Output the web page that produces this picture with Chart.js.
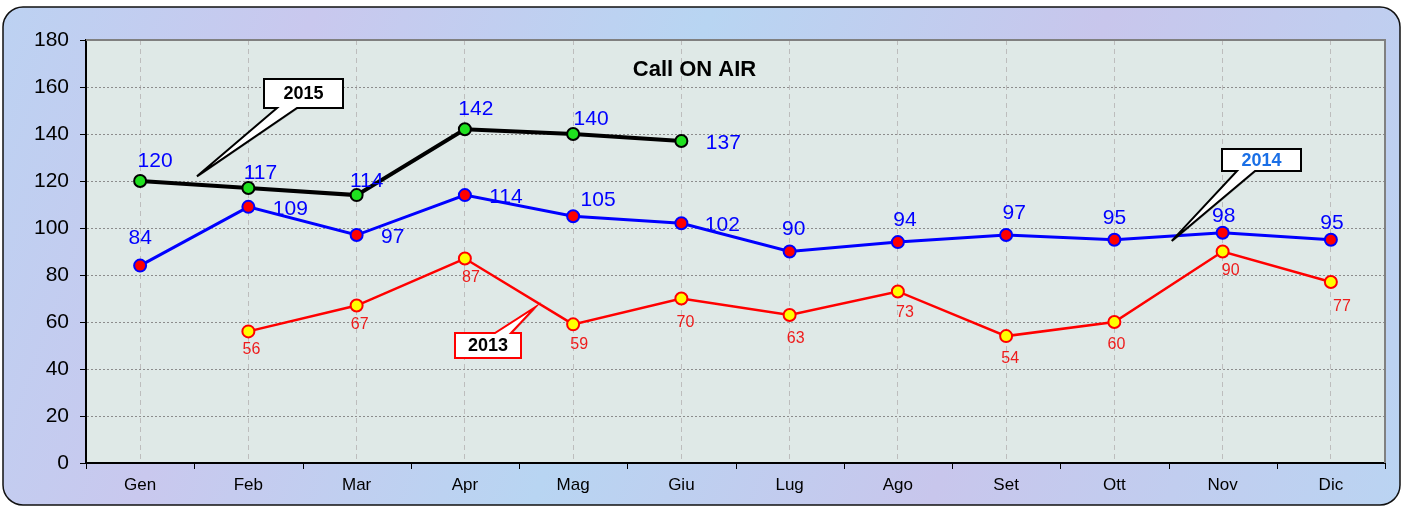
<!DOCTYPE html>
<html>
<head>
<meta charset="utf-8">
<script src="https://cdn.jsdelivr.net/npm/chart.js@4/dist/chart.umd.min.js"></script>
<style>
  html, body { margin: 0; padding: 0; background: #fff; }
  #callChart { display: block; }
</style>
</head>
<body>
<canvas id="callChart" width="1405" height="508"></canvas>
<script>
// chart values
var months = ["Gen", "Feb", "Mar", "Apr", "Mag", "Giu", "Lug", "Ago", "Set", "Ott", "Nov", "Dic"];
var calls2013 = [null, 56, 67, 87, 59, 70, 63, 73, 54, 60, 90, 77];
var calls2014 = [84, 109, 97, 114, 105, 102, 90, 94, 97, 95, 98, 95];
var calls2015 = [120, 117, 114, 142, 140, 137, null, null, null, null, null, null];
var yMin = 0, yMax = 180, yStep = 20;
var chartTitle = "Call ON AIR";

// where each value label sits relative to its point (px)
var offsets2013 = [[0, 0], [3, 18], [3, 19], [6, 19], [6, 20], [4, 24], [6, 24], [7, 21], [4, 22], [2, 23], [8, 19], [11, 25]];
var offsets2014 = [[0, -27], [42, 2], [36, 2], [41, 2], [25, -16], [41, 2], [4, -22], [7, -22], [8, -22], [0, -22], [1, -16], [1, -17]];
var offsets2015 = [[15, -20], [12, -15], [10, -14], [11, -20], [18, -15], [42, 2]];

// callouts: box centre and pointer tip in data units (x = month index, y = value)
var callouts = [
  { text: "2015", box: [1.51, 157.2], w: 79, h: 29, tip: [0.525, 122], side: "bottom", base: [13, 33], border: "#000", color: "#000" },
  { text: "2014", box: [10.36, 128.9], w: 79, h: 22, tip: [9.53, 94.5], side: "bottom", base: [15, 33], border: "#000", color: "#1a6fe6" },
  { text: "2013", box: [3.21, 50], w: 66, h: 25, tip: [3.65, 66.3], side: "top", base: [40, 56], border: "#f00", color: "#000" }
];

var FONT = "'Liberation Sans', Arial, sans-serif";

var framePlugin = {
  id: "frame",
  beforeDraw: function(chart) {
    var ctx = chart.ctx, a = chart.chartArea;
    ctx.save();
    ctx.fillStyle = "#fff";
    ctx.fillRect(0, 0, chart.width, chart.height);
    var x = 3, y = 7, w = 1397, h = 498, r = 20;
    ctx.beginPath();
    ctx.moveTo(x + r, y);
    ctx.arcTo(x + w, y, x + w, y + h, r);
    ctx.arcTo(x + w, y + h, x, y + h, r);
    ctx.arcTo(x, y + h, x, y, r);
    ctx.arcTo(x, y, x + w, y, r);
    ctx.closePath();
    var g = ctx.createLinearGradient(0, 0, chart.width, chart.height);
    g.addColorStop(0, "#bcd2f2");
    g.addColorStop(0.2, "#c9c8ee");
    g.addColorStop(0.45, "#b8d5f2");
    g.addColorStop(0.7, "#c8c6ec");
    g.addColorStop(1, "#bad4f2");
    ctx.fillStyle = g;
    ctx.fill();
    ctx.lineWidth = 1.5;
    ctx.strokeStyle = "#111";
    ctx.stroke();
    // plot area
    ctx.fillStyle = "#dfe9e7";
    ctx.fillRect(a.left, a.top, a.right - a.left, a.bottom - a.top);
    ctx.restore();
  },
  beforeDatasetsDraw: function(chart) {
    var ctx = chart.ctx, a = chart.chartArea;
    ctx.save();
    // plot area border (top / right)
    ctx.strokeStyle = "#808080";
    ctx.lineWidth = 2;
    ctx.beginPath();
    ctx.moveTo(a.left, a.top);
    ctx.lineTo(a.right, a.top);
    ctx.lineTo(a.right, a.bottom);
    ctx.stroke();
    // category boundary ticks
    ctx.strokeStyle = "#000";
    ctx.lineWidth = 1;
    var step = (a.right - a.left) / months.length;
    for (var i = 0; i <= months.length; i++) {
      var px = Math.round(a.left + i * step) + 0.5;
      ctx.beginPath();
      ctx.moveTo(px, a.bottom);
      ctx.lineTo(px, a.bottom + 6);
      ctx.stroke();
    }
    // title
    ctx.fillStyle = "#000";
    ctx.font = "bold 22px " + FONT;
    ctx.textAlign = "center";
    ctx.textBaseline = "middle";
    ctx.fillText(chartTitle, (a.left + a.right) / 2 - 41, a.top + 30);
    ctx.restore();
  }
};

var labelPlugin = {
  id: "valueLabels",
  afterDatasetsDraw: function(chart) {
    var ctx = chart.ctx;
    ctx.save();
    ctx.textAlign = "center";
    ctx.textBaseline = "middle";
    chart.data.datasets.forEach(function(ds, di) {
      var meta = chart.getDatasetMeta(di);
      ctx.font = ds.labelFont;
      ctx.fillStyle = ds.labelColor;
      meta.data.forEach(function(pt, i) {
        var v = ds.data[i];
        if (v === null || v === undefined) return;
        var off = ds.labelOffsets[i] || [0, -20];
        ctx.fillText(String(v), pt.x + off[0], pt.y + off[1]);
      });
    });
    ctx.restore();
  }
};

var calloutPlugin = {
  id: "callouts",
  afterDatasetsDraw: function(chart) {
    var ctx = chart.ctx, xs = chart.scales.x, ys = chart.scales.y;
    ctx.save();
    callouts.forEach(function(c) {
      var cx = xs.getPixelForValue(c.box[0]), cy = ys.getPixelForValue(c.box[1]);
      var l = Math.round(cx - c.w / 2), t = Math.round(cy - c.h / 2);
      var r = l + c.w, b = t + c.h;
      var tx = xs.getPixelForValue(c.tip[0]), ty = ys.getPixelForValue(c.tip[1]);
      ctx.beginPath();
      if (c.side === "bottom") {
        ctx.moveTo(l, t);
        ctx.lineTo(r, t);
        ctx.lineTo(r, b);
        ctx.lineTo(l + c.base[1], b);
        ctx.lineTo(tx, ty);
        ctx.lineTo(l + c.base[0], b);
        ctx.lineTo(l, b);
      } else {
        ctx.moveTo(l, t);
        ctx.lineTo(l + c.base[0], t);
        ctx.lineTo(tx, ty);
        ctx.lineTo(l + c.base[1], t);
        ctx.lineTo(r, t);
        ctx.lineTo(r, b);
        ctx.lineTo(l, b);
      }
      ctx.closePath();
      ctx.shadowColor = "rgba(0,0,0,0.25)";
      ctx.shadowOffsetX = 1;
      ctx.shadowOffsetY = 1;
      ctx.fillStyle = "#fff";
      ctx.fill();
      ctx.shadowColor = "transparent";
      ctx.lineWidth = 2;
      ctx.strokeStyle = c.border;
      ctx.stroke();
      ctx.fillStyle = c.color;
      ctx.font = "bold 18px " + FONT;
      ctx.textAlign = "center";
      ctx.textBaseline = "middle";
      ctx.fillText(c.text, (l + r) / 2, (t + b) / 2 + 1);
    });
    ctx.restore();
  }
};

var ctx = document.getElementById("callChart").getContext("2d");
var chart = new Chart(ctx, {
  type: "line",
  data: {
    labels: months,
    datasets: [{
      label: "2015",
      data: calls2015,
      borderColor: "#000",
      borderWidth: 4,
      pointRadius: 6,
      pointBorderWidth: 2,
      pointBackgroundColor: "#1fe01f",
      pointBorderColor: "#000",
      spanGaps: false,
      labelFont: "21px " + FONT,
      labelColor: "#0000ff",
      labelOffsets: offsets2015
    }, {
      label: "2014",
      data: calls2014,
      borderColor: "#0000ff",
      borderWidth: 3,
      pointRadius: 6,
      pointBorderWidth: 2,
      pointBackgroundColor: "#ff0000",
      pointBorderColor: "#0000ff",
      labelFont: "21px " + FONT,
      labelColor: "#0000ff",
      labelOffsets: offsets2014
    }, {
      label: "2013",
      data: calls2013,
      borderColor: "#ff0000",
      borderWidth: 2.5,
      pointRadius: 6,
      pointBorderWidth: 2,
      pointBackgroundColor: "#ffff00",
      pointBorderColor: "#ff0000",
      labelFont: "16px " + FONT,
      labelColor: "#ee1c1c",
      labelOffsets: offsets2013
    }]
  },
  options: {
    responsive: false,
    animation: false,
    layout: { padding: { top: 40, right: 20, left: 0, bottom: 0 } },
    plugins: {
      legend: { display: false },
      tooltip: { enabled: false }
    },
    elements: { line: { tension: 0 } },
    scales: {
      x: {
        offset: true,
        grid: {
          offset: false,
          color: "#bdbdbd",
          tickLength: 0
        },
        border: { display: true, color: "#000", width: 2, dash: [5, 4] },
        ticks: {
          color: "#000",
          font: { family: FONT, size: 17 },
          padding: 12,
          maxRotation: 0
        },
        afterFit: function(scale) { scale.height = 45; }
      },
      y: {
        min: yMin,
        max: yMax,
        grid: {
          color: "#8c8c8c",
          tickColor: "#000",
          tickBorderDash: [],
          tickLength: 6
        },
        border: { display: true, color: "#000", width: 2, dash: [2, 2] },
        ticks: {
          stepSize: yStep,
          color: "#000",
          font: { family: FONT, size: 21 },
          padding: 11
        },
        afterFit: function(scale) { scale.width = 86; }
      }
    }
  },
  plugins: [framePlugin, labelPlugin, calloutPlugin]
});
</script>
</body>
</html>
